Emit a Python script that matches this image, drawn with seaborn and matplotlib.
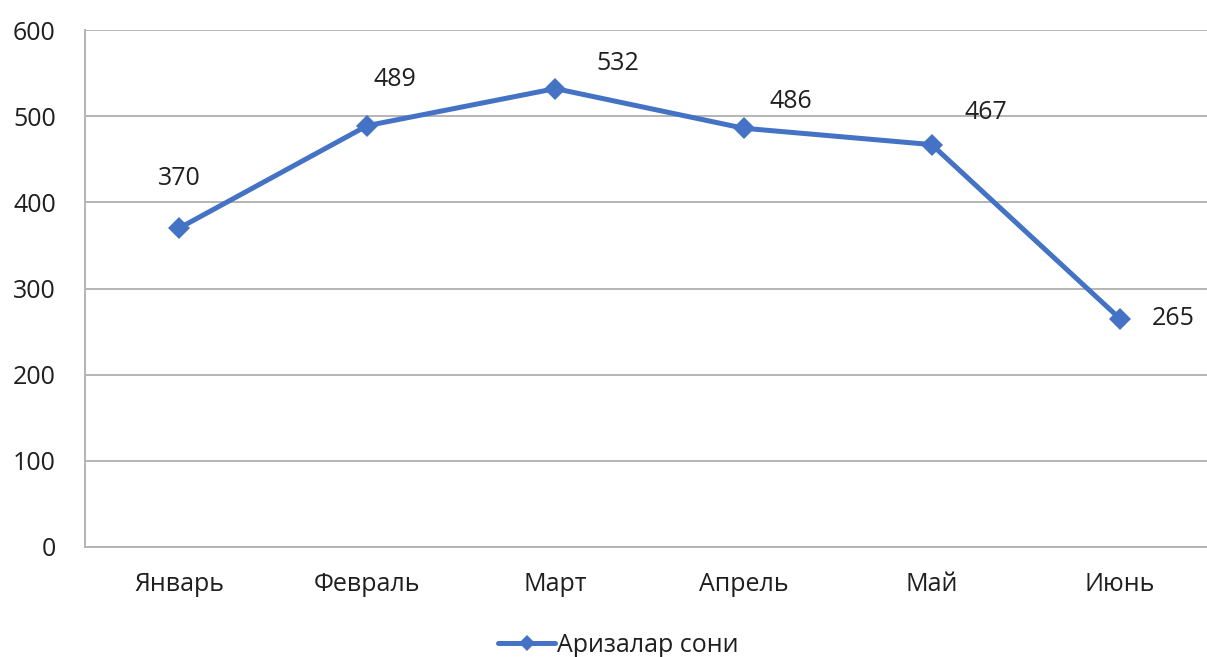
import matplotlib
matplotlib.use("Agg")
import matplotlib.pyplot as plt
from matplotlib.lines import Line2D
import seaborn as sns
import pandas as pd

months = ["Январь", "Февраль", "Март", "Апрель", "Май", "Июнь"]
values = [370, 489, 532, 486, 467, 265]
series_name = "Аризалар сони"
y_ticks = [0, 100, 200, 300, 400, 500, 600]
# label offsets in points (dx, dy) relative to each point
label_offsets = [(0, 36), (20, 33), (45, 18), (34, 19), (39, 23), (38, 0)]

sns.set_theme(style="white")
plt.rcParams['font.family'] = ['Open Sans', 'DejaVu Sans']

line_color = "#4472C4"
grid_color = "#b4b4b4"
text_color = "#1f1f1f"
fs = 18

df = pd.DataFrame({"month": months, "value": values})

fig = plt.figure(figsize=(12.07, 6.57), dpi=100)
ax = fig.add_axes([85/1207, 1 - 547/657, (1214 - 85)/1207, (547 - 30)/657])

sns.lineplot(data=df, x="month", y="value", sort=False, ax=ax,
             color=line_color, linewidth=3.6, marker="D", markersize=11,
             markeredgewidth=0, legend=False)

ax.set_xlim(-0.5, len(months) - 0.5)
ax.set_ylim(0, 600)
ax.set_yticks(y_ticks)
ax.set_xlabel("")
ax.set_ylabel("")
ax.grid(axis="y", color=grid_color, linewidth=1.4)
ax.set_axisbelow(True)
for s in ["top", "right"]:
    ax.spines[s].set_visible(False)
for s in ["left", "bottom"]:
    ax.spines[s].set_color(grid_color)
    ax.spines[s].set_linewidth(1.4)
ax.tick_params(axis="both", length=0, labelsize=fs, colors=text_color)
ax.tick_params(axis="y", pad=21)
ax.tick_params(axis="x", pad=18)

for i, (v, off) in enumerate(zip(values, label_offsets)):
    ax.annotate(str(v), (i, v), xytext=off, textcoords="offset points",
                ha="center", va="center", fontsize=fs, color=text_color)

proxy = Line2D([], [], color=line_color, linewidth=3.6, marker="D",
               markersize=8, markeredgewidth=0)
leg = fig.legend([proxy], [series_name], loc="center",
                 bbox_to_anchor=(618/1207, 1 - 645/657), frameon=False,
                 fontsize=fs, handlelength=2.3, handletextpad=0.05,
                 labelcolor=text_color)

fig.savefig("out.png", dpi=100)
